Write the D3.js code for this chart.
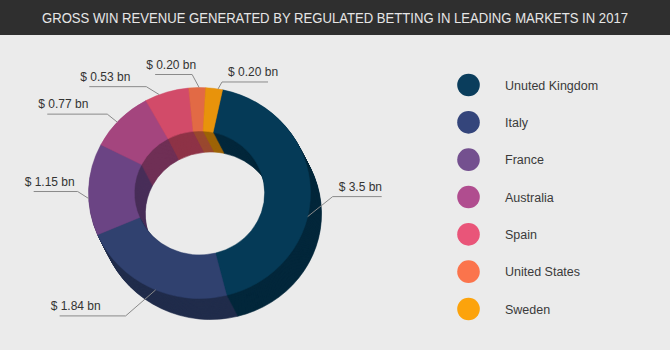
<!DOCTYPE html>
<html><head><meta charset="utf-8">
<script src="https://cdn.jsdelivr.net/npm/d3@7"></script>
<style>html,body{margin:0;padding:0;background:#ebebeb;}svg{display:block;}</style>
</head><body>
<script>
const title = "GROSS WIN REVENUE GENERATED BY REGULATED BETTING IN LEADING MARKETS IN 2017";
const categories = ["Unuted Kingdom","Italy","France","Australia","Spain","United States","Sweden"];
const values = [3.5, 1.84, 1.15, 0.77, 0.53, 0.20, 0.20];
const valueLabels = ["$ 3.5 bn","$ 1.84 bn","$ 1.15 bn","$ 0.77 bn","$ 0.53 bn","$ 0.20 bn","$ 0.20 bn"];
const sliceColors = ["#053a57","#30416f","#6b4484","#a4457e","#d24b69","#e26a45","#e8930b"];
const legendColors = ["#0a3d5c","#34457b","#74508f","#b04d8f","#e95579","#fb744c","#fca30c"];
// leader-line layout: angle nudge (deg), elbow offset from anchor, horizontal run
const labelNudge = [14, -3, -5, -2, -4, 1, 2];
const labelElbow = [[25,-20],[-30,26],[-11,-7],[-10,-8],[-13,-8],[-7,-13],[4,-7]];
const labelRun = [49, -66, -44, -60, -57, -37, 46];

const W = 670, H = 350;
const svg = d3.select("body").append("svg").attr("width", W).attr("height", H);
svg.append("rect").attr("width", W).attr("height", H).attr("fill", "#ebebeb");
svg.append("rect").attr("width", W).attr("height", 35).attr("fill", "#2f2f2f");
svg.append("text").attr("x", 335).attr("y", 22.5).attr("text-anchor", "middle")
  .attr("font-family", "Liberation Sans, Arial, sans-serif").attr("font-size", 14)
  .attr("fill", "#e6e6e6").attr("textLength", 586).attr("lengthAdjust", "spacingAndGlyphs")
  .text(title);

const cx = 199.5, cy = 193, sx = 1.052, R = 105.5, r = 62;
const depthX = 11, depthY = 21, steps = 24;
const start = 12 * Math.PI / 180;
const pie = d3.pie().sort(null).value(d => d).startAngle(start).endAngle(start + 2 * Math.PI);
const arcs = pie(values);
const arc = d3.arc().innerRadius(r).outerRadius(R);

const side = svg.append("g");
for (let i = steps; i >= 1; i--) {
  const t = i / steps;
  side.append("g").attr("transform", `translate(${cx + depthX * t},${cy + depthY * t}) scale(${sx},1)`)
    .selectAll("path").data(arcs).join("path")
    .attr("d", arc)
    .attr("fill", d => d3.color(sliceColors[d.index]).darker(1.1))
    .attr("stroke", d => d3.color(sliceColors[d.index]).darker(1.1))
    .attr("stroke-width", 0.6);
}
svg.append("g").attr("transform", `translate(${cx},${cy}) scale(${sx},1)`)
  .selectAll("path").data(arcs).join("path")
  .attr("d", arc)
  .attr("fill", d => sliceColors[d.index])
  .attr("stroke", d => sliceColors[d.index])
  .attr("stroke-width", 0.5);

// labels
const lg = svg.append("g");
arcs.forEach((d, i) => {
  const th = (d.startAngle + d.endAngle) / 2 + labelNudge[i] * Math.PI / 180;
  const ax = cx + R * sx * Math.sin(th), ay = cy - R * Math.cos(th);
  const ex = ax + labelElbow[i][0], ey = ay + labelElbow[i][1];
  const lx = ex + labelRun[i];
  lg.append("polyline").attr("points", `${ax},${ay} ${ex},${ey} ${lx},${ey}`)
    .attr("fill", "none").attr("stroke", "#8a8a8a").attr("stroke-width", 1);
  const tx = labelRun[i] > 0 ? ex + 6 : lx - 9;
  lg.append("text").attr("x", tx).attr("y", ey - 6)
    .attr("font-family", "Liberation Sans, Arial, sans-serif").attr("font-size", 12)
    .attr("fill", "#333").text(valueLabels[i]);
});

// legend
const y = d3.scalePoint().domain(categories).range([85, 309]);
const leg = svg.append("g");
leg.selectAll("circle").data(categories).join("circle")
  .attr("cx", 468.5).attr("cy", d => y(d)).attr("r", 11.3)
  .attr("fill", (d, i) => legendColors[i]);
leg.selectAll("text").data(categories).join("text")
  .attr("x", 505).attr("y", d => y(d) + 4.5)
  .attr("font-family", "Liberation Sans, Arial, sans-serif").attr("font-size", 12.5)
  .attr("fill", "#3a3a3a").text(d => d);
</script>
</body></html>
